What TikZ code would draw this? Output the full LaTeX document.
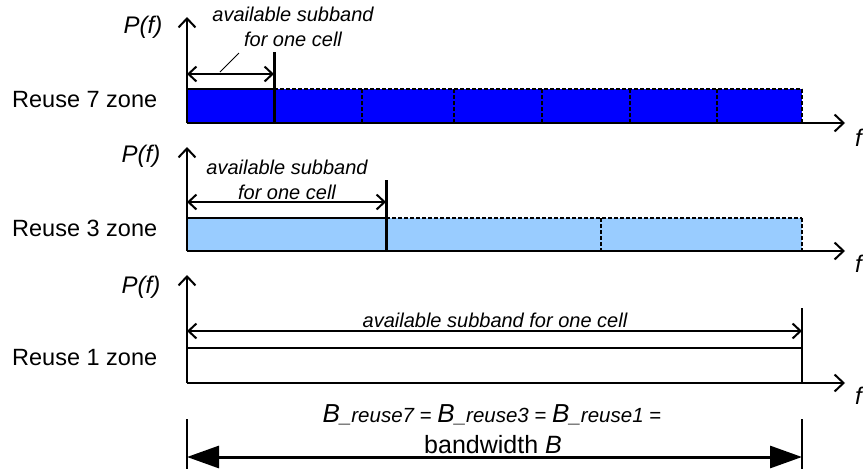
\documentclass[tikz,border=0pt]{standalone}
\usepackage{fontspec}
\setmainfont{Liberation Sans}
\usetikzlibrary{arrows.meta}

\definecolor{skyband}{RGB}{153,204,255}
\newcommand{\Bre}[1]{{\fontsize{26}{28}\selectfont\itshape B}{\itshape\_reuse#1}}

\begin{document}
\begin{tikzpicture}[x=1pt, y=-1pt,
  zone/.style={font=\fontsize{23.5}{27}\selectfont, anchor=west, inner sep=0pt},
  pf/.style={font=\fontsize{24}{28}\selectfont\itshape, inner sep=0pt},
  note/.style={font=\fontsize{20}{25}\selectfont\itshape, align=center, inner sep=0pt},
  axis/.style={-{Straight Barb[length=9pt, width=17pt, line width=2pt]}, line width=2.5pt},
  dim/.style={{Straight Barb[length=8pt, width=15pt, line width=2pt]}-{Straight Barb[length=8pt, width=15pt, line width=2pt]}, line width=2pt},
  sep/.style={line width=3pt},
  dsh/.style={line width=2.2pt, dash pattern=on 4pt off 2pt},
  bw/.style={{Triangle[length=32pt, width=22pt]}-{Triangle[length=32pt, width=22pt]}, line width=3pt}
]
\useasboundingbox (0,0) rectangle (863,469);
% --- reuse 7 ---
\coordinate (o7) at (187,123);
\coordinate (t7) at (187,17);
\coordinate (e7) at (845,123);
\fill[blue] (187,89) rectangle (802,123);
\foreach \xx in {362,454,542,630,717,802} \draw[dsh] (\xx,89) -- (\xx,123);
\draw[dsh] (274,89) -- (802,89);
\draw[line width=2.5pt] (187,89) -- (274,89);
\draw[sep] (274,123) -- (274,52);
\draw[dim] (187,74) -- (274,74);
\draw[line width=0.8pt] (220,72) -- (239,53);
\draw[axis] (o7) -- (t7);
\draw[axis] (o7) -- (e7);
\node[zone] (z7) at (12,100) {Reuse 7 zone};
\node[pf] (p7) at (143,27) {P(f)};
\node[pf, anchor=west] (f7) at (855,138) {f};
\node[note] (n7) at (293,27) {available subband\\for one cell};
% --- reuse 3 ---
\coordinate (o3) at (187,251);
\coordinate (t3) at (187,147);
\coordinate (e3) at (845,251);
\fill[skyband] (187,218) rectangle (802,251);
\foreach \xx in {601,802} \draw[dsh] (\xx,218) -- (\xx,251);
\draw[dsh] (386,218) -- (802,218);
\draw[line width=2.5pt] (187,218) -- (386,218);
\draw[sep] (386,251) -- (386,180);
\draw[dim] (187,202) -- (386,202);
\draw[axis] (o3) -- (t3);
\draw[axis] (o3) -- (e3);
\node[zone] (z3) at (12,228) {Reuse 3 zone};
\node[pf] (p3) at (141,156) {P(f)};
\node[pf, anchor=west] (f3) at (855,264) {f};
\node[note] (n3) at (287,180) {available subband\\for one cell};
% --- reuse 1 ---
\coordinate (o1) at (187,383);
\coordinate (t1) at (187,275);
\coordinate (e1) at (845,383);
\draw[line width=1.5pt] (187,348) -- (802,348);
\draw[line width=2pt] (802,383) -- (802,308);
\draw[dim] (187,331) -- (802,331);
\draw[axis] (o1) -- (t1);
\draw[axis] (o1) -- (e1);
\node[zone] (z1) at (12,358) {Reuse 1 zone};
\node[pf] (p1) at (141,287) {P(f)};
\node[pf, anchor=west] (f1) at (855,396) {f};
\node[note] (n1) at (495,320) {available subband for one cell};
% --- bandwidth ---
\coordinate (bl) at (187,457);
\coordinate (br) at (802,457);
\draw[line width=2pt] (187,419) -- (187,469);
\draw[line width=2pt] (802,419) -- (802,469);
\draw[bw] (bl) -- (br);
\node[font=\fontsize{20.5}{22}\selectfont, inner sep=0pt] (eq) at (492,415) {\Bre{7} = \Bre{3} = \Bre{1} =};
\node[font=\fontsize{25}{28}\selectfont, inner sep=0pt] (bwb) at (493,445) {bandwidth \textit{B}};
\end{tikzpicture}
\end{document}
